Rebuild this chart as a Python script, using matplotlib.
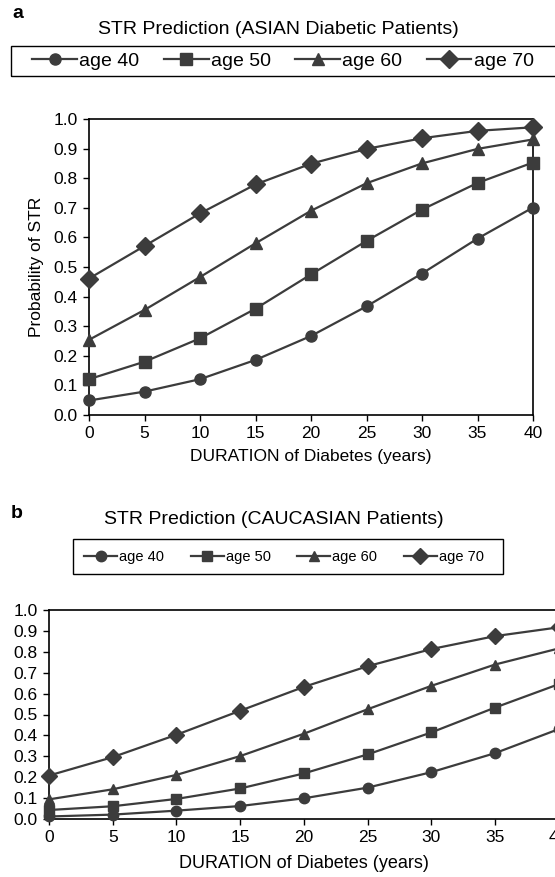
#!/usr/bin/env python3
"""STR prediction curves for Asian and Caucasian diabetic patients."""

import matplotlib
matplotlib.use("Agg")
import matplotlib.pyplot as plt
from matplotlib.patches import Rectangle
from matplotlib.ticker import FormatStrFormatter

plt.rcParams["font.family"] = ["Liberation Sans", "DejaVu Sans"]

DURATION = [0, 5, 10, 15, 20, 25, 30, 35, 40]
AGES = ["age 40", "age 50", "age 60", "age 70"]
MARKERS = ["o", "s", "^", "D"]

ASIAN = {
    "age 40": [0.049, 0.079, 0.121, 0.186, 0.267, 0.367, 0.478, 0.596, 0.701],
    "age 50": [0.121, 0.180, 0.259, 0.359, 0.475, 0.588, 0.694, 0.784, 0.853],
    "age 60": [0.254, 0.355, 0.466, 0.580, 0.690, 0.783, 0.850, 0.899, 0.931],
    "age 70": [0.461, 0.571, 0.681, 0.779, 0.849, 0.899, 0.935, 0.960, 0.972],
}
CAUCASIAN = {
    "age 40": [0.012, 0.021, 0.040, 0.062, 0.099, 0.150, 0.224, 0.315, 0.430],
    "age 50": [0.043, 0.061, 0.096, 0.146, 0.218, 0.309, 0.414, 0.533, 0.645],
    "age 60": [0.094, 0.142, 0.211, 0.301, 0.408, 0.525, 0.637, 0.739, 0.816],
    "age 70": [0.208, 0.296, 0.403, 0.518, 0.632, 0.731, 0.813, 0.875, 0.917],
}

YTICKS = [0.0, 0.1, 0.2, 0.3, 0.4, 0.5, 0.6, 0.7, 0.8, 0.9, 1.0]
XTICKS = [0, 5, 10, 15, 20, 25, 30, 35, 40]

INK = "#3c3c3c"
W, H = 555, 877


def fig_box(x0, y0, x1, y1):
    # pixel box (top-left origin) -> figure fraction rectangle
    return [x0 / W, 1 - y1 / H, (x1 - x0) / W, (y1 - y0) / H]


def draw_panel(ax, data, tick_size, label_size, msize):
    handles = []
    for age, marker in zip(AGES, MARKERS):
        ms = msize * (1.1 if marker == "D" else 1.0)
        (line,) = ax.plot(DURATION, data[age], color=INK, linewidth=1.6,
                          marker=marker, markersize=ms, markerfacecolor=INK,
                          markeredgecolor=INK, label=age, clip_on=False, zorder=3)
        handles.append(line)
    ax.set_xlim(0, 40)
    ax.set_ylim(0, 1.0)
    ax.set_xticks(XTICKS)
    ax.set_yticks(YTICKS)
    ax.yaxis.set_major_formatter(FormatStrFormatter("%.1f"))
    ax.tick_params(direction="out", length=4, width=1.0, labelsize=tick_size,
                   color="black", pad=4)
    for spine in ax.spines.values():
        spine.set_linewidth(1.2)
    ax.set_xlabel("DURATION of Diabetes (years)", fontsize=label_size, labelpad=6)
    ax.set_ylabel("Probability of STR", fontsize=label_size, labelpad=7)
    return handles


def boxed_legend(handles, center, box, fontsize, handlelength, colspacing):
    leg = fig.legend(handles, AGES, loc="center", ncol=4,
                     bbox_to_anchor=center, fontsize=fontsize,
                     handlelength=handlelength, handletextpad=0.12,
                     columnspacing=colspacing, frameon=False, borderpad=0)
    fig.patches.append(Rectangle(box[:2], box[2], box[3], transform=fig.transFigure,
                                 fill=False, edgecolor="black", linewidth=1.0))
    return leg


fig = plt.figure(figsize=(W / 100, H / 100), dpi=100)
fig.patch.set_facecolor("white")

# panel a
ax_a = fig.add_axes(fig_box(89, 119, 533, 415))
handles_a = draw_panel(ax_a, ASIAN, 12.5, 12.5, 8)
fig.text(18 / W, 1 - 14 / H, "a", fontsize=14, fontweight="bold", va="center", ha="center")
fig.text(278 / W, 1 - 29 / H, "STR Prediction (ASIAN Diabetic Patients)", fontsize=14,
         ha="center", va="center")
boxed_legend(handles_a, (283 / W, 1 - 61 / H), fig_box(11, 46, 557, 76),
             14, 2.3, 1.25)

# panel b
ax_b = fig.add_axes(fig_box(49, 610, 558.7, 819))
handles_b = draw_panel(ax_b, CAUCASIAN, 12.5, 13, 7.5)
ax_b.xaxis.labelpad = 7
ax_b.yaxis.labelpad = 16
fig.text(17 / W, 1 - 513 / H, "b", fontsize=14, fontweight="bold", va="center", ha="center")
fig.text(274 / W, 1 - 520 / H, "STR Prediction (CAUCASIAN Patients)", fontsize=14,
         ha="center", va="center")
boxed_legend(handles_b, (284 / W, 1 - 557 / H), fig_box(73, 539, 503, 574),
             10.5, 2.25, 1.85)

fig.savefig("out.png", dpi=100, facecolor="white")
